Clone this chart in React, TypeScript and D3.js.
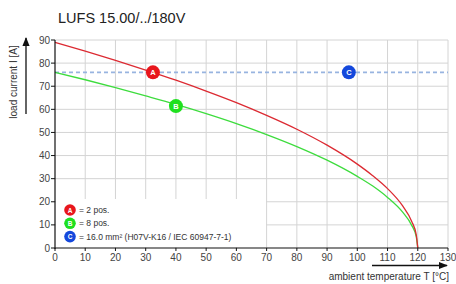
import React from 'react';
import { scaleLinear, line, curveMonotoneX, range } from 'd3';

const width = 456;
const height = 284;

// curve points
const temps = [0, 10, 20, 30, 40, 50, 60, 70, 80, 90, 100, 105, 110, 115, 118, 119.5, 120];
const currentA = [89, 85.2, 81.2, 77, 72.6, 67.9, 62.9, 57.4, 51.4, 44.5, 36.3, 31.4, 25.7, 18.2, 11.5, 5.7, 0];
const currentB = [76, 72.8, 69.4, 65.8, 62.1, 58.1, 53.8, 49.1, 43.9, 38, 31, 26.9, 21.9, 15.5, 9.8, 4.9, 0];
const limitC = 76;

const xTicks = range(0, 131, 10);
const yTicks = range(0, 91, 10);

const markers = [
  { key: 'A', t: 32.4, i: 76, color: '#e8161c' },
  { key: 'B', t: 40, i: 61.4, color: '#1fe01f' },
  { key: 'C', t: 97.2, i: 76, color: '#1448dc' },
];

const legendItems = [
  { key: 'A', label: '= 2 pos.', color: '#e8161c' },
  { key: 'B', label: '= 8 pos.', color: '#1fe01f' },
  { key: 'C', label: '= 16.0 mm² (H07V-K16 / IEC 60947-7-1)', color: '#1448dc' },
];

const x = scaleLinear().domain([0, 130]).range([55, 448]);
const y = scaleLinear().domain([0, 90]).range([248, 40]);

const font = 'Liberation Sans, Arial, sans-serif';

const App = () => {
  const mkLine = (vals: number[]) =>
    line<number>()
      .x((d, i) => x(temps[i]))
      .y(d => y(d))
      .curve(curveMonotoneX)(vals) || '';

  return (
    <svg width={width} height={height} style={{ position: 'absolute', left: 0, top: 0 }} fontFamily={font}>
      <defs>
        <marker id="arr" viewBox="0 0 10 10" refX="9" refY="5" markerWidth="7" markerHeight="7" orient="auto">
          <path d="M0,1 L10,5 L0,9 z" fill="#111" />
        </marker>
      </defs>
      <rect width={width} height={height} fill="#fff" />
      <text x={58} y={23} fontSize={14.5} fill="#222">LUFS 15.00/../180V</text>

      {/* grid */}
      {xTicks.filter(d => d > 0).map(d => (
        <line key={'gx' + d} x1={x(d)} x2={x(d)} y1={y(90)} y2={y(0)} stroke="#d4d4d4" />
      ))}
      {yTicks.filter(d => d > 0).map(d => (
        <line key={'gy' + d} x1={x(0)} x2={x(130)} y1={y(d)} y2={y(d)} stroke="#d4d4d4" />
      ))}

      {/* legend box hides the grid */}
      <rect x={x(0) + 1} y={199} width={210} height={y(0) - 200} fill="#fff" />

      {/* limit C */}
      <line x1={x(0)} x2={x(130)} y1={y(limitC)} y2={y(limitC)} stroke="#98b4e0" strokeWidth={1.6} strokeDasharray="4 3" />

      <path d={mkLine(currentB)} fill="none" stroke="#3ddc3d" strokeWidth={1.3} />
      <path d={mkLine(currentA)} fill="none" stroke="#dc2a32" strokeWidth={1.3} />

      {markers.map(m => (
        <g key={m.key} transform={`translate(${x(m.t)},${y(m.i)})`}>
          <circle r={7} fill={m.color} />
          <text y={3} textAnchor="middle" fontSize={7.5} fontWeight="bold" fill="#fff">{m.key}</text>
        </g>
      ))}

      {/* axes */}
      <line x1={x(0)} x2={x(0)} y1={y(90)} y2={y(0) + 1} stroke="#111" strokeWidth={1.2} />
      <line x1={x(0)} x2={x(130)} y1={y(0)} y2={y(0)} stroke="#111" strokeWidth={1.2} />
      {yTicks.map(d => (
        <g key={'ty' + d}>
          <line x1={x(0) - 4} x2={x(0)} y1={y(d)} y2={y(d)} stroke="#111" />
          <text x={x(0) - 5} y={y(d) + 3.5} textAnchor="end" fontSize={10} fill="#444">{d}</text>
        </g>
      ))}
      {xTicks.map(d => (
        <g key={'tx' + d}>
          <line x1={x(d)} x2={x(d)} y1={y(0)} y2={y(0) + 3} stroke="#111" />
          <text x={x(d)} y={y(0) + 13} textAnchor="middle" fontSize={10} fill="#444">{d}</text>
        </g>
      ))}

      {/* axis titles */}
      <text transform="translate(17,82) rotate(-90)" textAnchor="middle" fontSize={10} fill="#333">load current I [A]</text>
      <line x1={26} x2={26} y1={114} y2={38} stroke="#111" strokeWidth={1.3} markerEnd="url(#arr)" />
      <line x1={372} x2={447} y1={265.5} y2={265.5} stroke="#111" strokeWidth={1.3} markerEnd="url(#arr)" />
      <text x={449} y={280} textAnchor="end" fontSize={10} fill="#333">ambient temperature T [°C]</text>

      {/* legend */}
      {legendItems.map((l, i) => (
        <g key={l.key} transform={`translate(70,${210 + i * 13.3})`}>
          <circle r={5.8} fill={l.color} />
          <text y={2.6} textAnchor="middle" fontSize={6.5} fontWeight="bold" fill="#fff">{l.key}</text>
          <text x={9} y={3} fontSize={8.5} fill="#333">{l.label}</text>
        </g>
      ))}
    </svg>
  );
};

export default App;
